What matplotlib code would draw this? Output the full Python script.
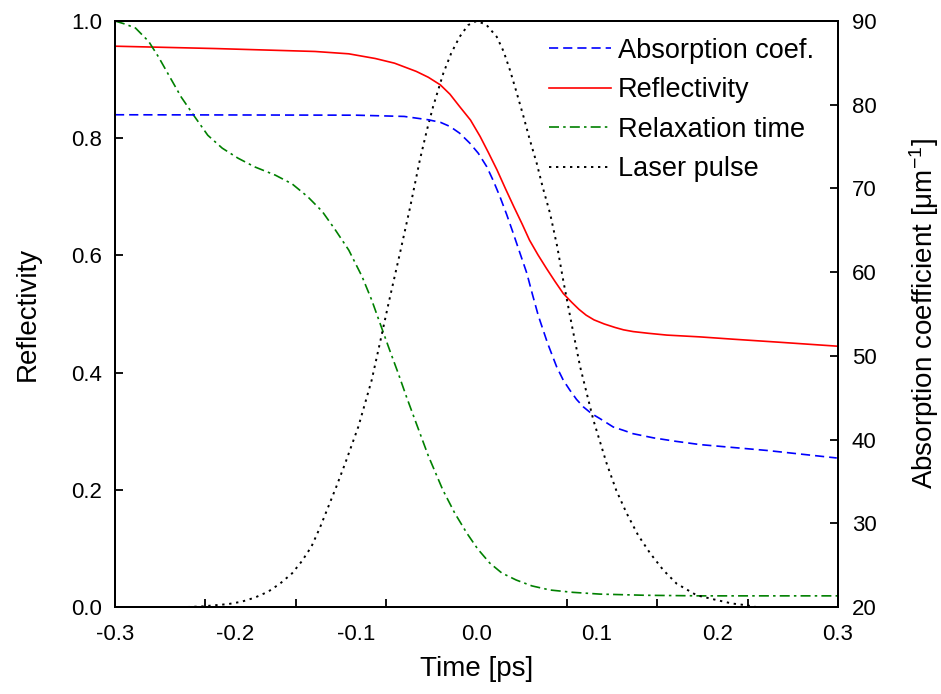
import numpy as np
import matplotlib
matplotlib.use("Agg")
import matplotlib.pyplot as plt

plt.rcParams['font.family'] = ['Liberation Sans', 'DejaVu Sans']
plt.rcParams['mathtext.fontset'] = 'custom'
plt.rcParams['mathtext.rm'] = 'Liberation Sans'
plt.rcParams['mathtext.it'] = 'Liberation Sans'

# ---- data ----
time_refl = [-0.300, -0.217, -0.134, -0.106, -0.084, -0.068, -0.050, -0.040, -0.030,
             -0.022, -0.014, -0.005, 0.003, 0.010, 0.017, 0.024, 0.031, 0.038, 0.044,
             0.051, 0.058, 0.065, 0.072, 0.079, 0.085, 0.091, 0.0975, 0.106, 0.115,
             0.122, 0.130, 0.143, 0.158, 0.185, 0.213, 0.250, 0.300]
reflectivity = [0.957, 0.953, 0.948, 0.944, 0.936, 0.928, 0.914, 0.904, 0.891,
                0.875, 0.854, 0.831, 0.803, 0.775, 0.746, 0.714, 0.683, 0.653, 0.626,
                0.601, 0.578, 0.556, 0.535, 0.520, 0.508, 0.498, 0.490, 0.483, 0.477,
                0.473, 0.470, 0.467, 0.464, 0.461, 0.457, 0.452, 0.445]

time_abs = [-0.300, -0.100, -0.060, -0.040, -0.030, -0.022, -0.014, -0.0055, 0.0015,
            0.0085, 0.0140, 0.0195, 0.0250, 0.0306, 0.0360, 0.0417, 0.0465, 0.0513,
            0.0590, 0.0665, 0.0720, 0.0775, 0.0830, 0.0887, 0.0955, 0.1025, 0.1135,
            0.122, 0.130, 0.147, 0.165, 0.1855, 0.241, 0.299]
absorption = [78.8, 78.75, 78.6, 78.2, 77.9, 77.4, 76.6, 75.4, 74.2,
              72.6, 70.9, 69.0, 66.9, 64.6, 62.3, 59.9, 57.3, 54.8,
              51.5, 48.7, 47.1, 45.9, 44.8, 43.9, 43.1, 42.5, 41.5,
              41.1, 40.7, 40.2, 39.8, 39.4, 38.7, 37.8]

time_relax = [-0.300, -0.292, -0.283, -0.272, -0.264, -0.253, -0.245, -0.234, -0.223,
              -0.211, -0.198, -0.184, -0.167, -0.153, -0.140, -0.128, -0.117, -0.106,
              -0.095, -0.087, -0.079, -0.072, -0.065, -0.058, -0.051, -0.040, -0.028,
              -0.018, -0.008, 0.001, 0.011, 0.021, 0.033, 0.046, 0.061, 0.080,
              0.1025, 0.140, 0.186, 0.240, 0.300]
relaxation = [1.000, 0.995, 0.988, 0.965, 0.939, 0.899, 0.870, 0.837, 0.805,
              0.783, 0.766, 0.751, 0.737, 0.722, 0.700, 0.675, 0.643, 0.609,
              0.564, 0.524, 0.478, 0.438, 0.399, 0.358, 0.319, 0.258, 0.200,
              0.160, 0.126, 0.099, 0.075, 0.058, 0.046, 0.036, 0.029, 0.025,
              0.022, 0.020, 0.019, 0.019, 0.019]

time_laser = [-0.240, -0.228, -0.217, -0.206, -0.195, -0.184, -0.173, -0.163, -0.153,
              -0.145, -0.137, -0.130, -0.123, -0.116, -0.109, -0.098, -0.087, -0.080,
              -0.073, -0.0635, -0.055, -0.047, -0.041, -0.036, -0.0275, -0.021, -0.014,
              -0.007, 0.000, 0.008, 0.0168, 0.0225, 0.0278, 0.033, 0.039, 0.044, 0.050,
              0.055, 0.061, 0.067, 0.072, 0.079, 0.086, 0.097, 0.108, 0.116, 0.1246,
              0.134, 0.144, 0.155, 0.166, 0.1827, 0.199, 0.212, 0.224, 0.232]
laser = [0.000, 0.001, 0.003, 0.005, 0.009, 0.016, 0.026, 0.040, 0.0575,
         0.078, 0.103, 0.135, 0.171, 0.207, 0.245, 0.308, 0.387, 0.452,
         0.518, 0.604, 0.683, 0.763, 0.815, 0.854, 0.911, 0.945, 0.973,
         0.993, 1.000, 0.994, 0.973, 0.948, 0.916, 0.880, 0.837, 0.799, 0.757,
         0.716, 0.672, 0.615, 0.557, 0.482, 0.410, 0.319, 0.245, 0.199, 0.160,
         0.123, 0.092, 0.063, 0.040, 0.020, 0.012, 0.006, 0.003, 0.000]

xtick_labels = [-0.3, -0.2, -0.1, 0.0, 0.1, 0.2, 0.3]
xtick_marks = [-0.3, -0.225, -0.15, -0.075, 0.0, 0.075, 0.15, 0.225, 0.3]
ytick_left = [0.0, 0.2, 0.4, 0.6, 0.8, 1.0]
ytick_right = [20, 30, 40, 50, 60, 70, 80, 90]

# ---- figure ----
fig = plt.figure(figsize=(9.41, 6.94), dpi=100)
ax = fig.add_axes([115/941, 1 - 607/694, 723/941, 586/694])
ax2 = ax.twinx()

lw = 1.2
l_red, = ax.plot(time_refl, reflectivity, color='#ff0000', lw=lw, label='Reflectivity')
l_green, = ax.plot(time_relax, relaxation, color='#008000', lw=lw,
                   dashes=(6, 2.5, 1.5, 2.5), label='Relaxation time')
l_black, = ax.plot(time_laser, laser, color='black', lw=1.4,
                   dashes=(1.2, 2.4), label='Laser pulse')
l_blue, = ax2.plot(time_abs, absorption, color='#0000ff', lw=lw,
                   dashes=(5.5, 3), label='Absorption coef.')

ax.set_xlim(-0.3, 0.3)
ax.set_ylim(0, 1.0)
ax2.set_ylim(20, 90)

ax.set_xticks(xtick_labels)
ax.set_xticklabels([f"{v:.1f}" for v in xtick_labels])
ax.set_xticks(xtick_marks, minor=True)
ax.tick_params(axis='x', which='major', length=0, pad=12, labelsize=16)
ax.tick_params(axis='x', which='minor', direction='in', length=6, width=1.3)

ax.set_yticks(ytick_left)
ax.set_yticklabels([f"{v:.1f}" for v in ytick_left])
ax.tick_params(axis='y', which='major', direction='in', length=6, width=1.3,
               pad=9, labelsize=16)
ax2.set_yticks(ytick_right)
ax2.tick_params(axis='y', which='major', direction='in', length=6, width=1.3,
                pad=10, labelsize=16)

for a in (ax, ax2):
    for s in a.spines.values():
        s.set_linewidth(1.4)

ax.set_xlabel('Time [ps]', fontsize=20, labelpad=8)
ax.set_ylabel('Reflectivity', fontsize=20, labelpad=22)
ax2.set_ylabel('Absorption coefficient [μm$^{-1}$]', fontsize=20, labelpad=22)

handles = [l_blue, l_red, l_green, l_black]
leg = ax.legend(handles=handles, labels=[h.get_label() for h in handles],
                loc='upper left', bbox_to_anchor=(535/941, 1 - 24/694),
                bbox_transform=fig.transFigure, frameon=False, fontsize=19.5,
                handlelength=2.3, handletextpad=0.25, labelspacing=0.5, borderpad=0)

fig.savefig('out.png', dpi=100)
